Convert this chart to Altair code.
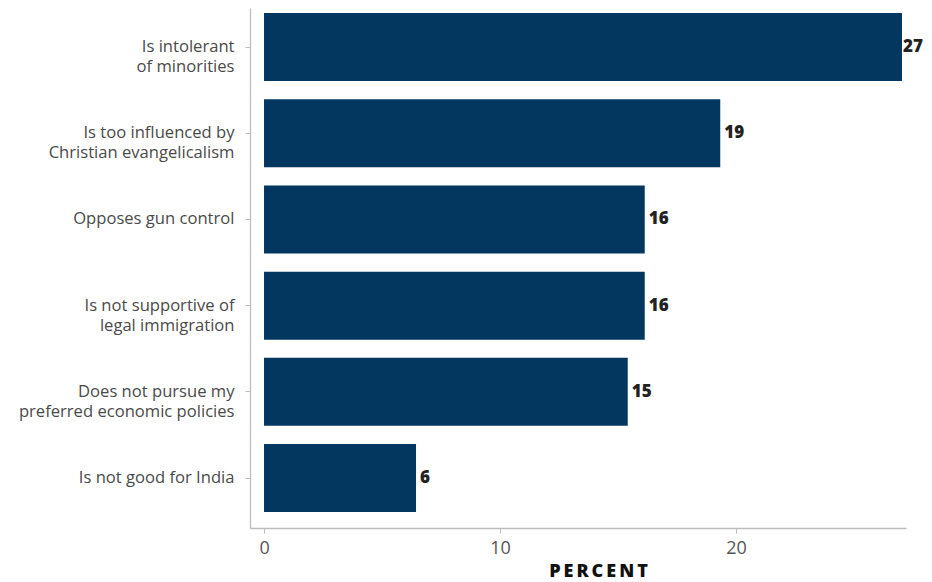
import altair as alt
import pandas as pd

categories = [
    "Is intolerant|of minorities",
    "Is too influenced by|Christian evangelicalism",
    "Opposes gun control",
    "Is not supportive of|legal immigration",
    "Does not pursue my|preferred economic policies",
    "Is not good for India",
]
values = [27.03, 19.33, 16.13, 16.13, 15.41, 6.44]
labels = ["27", "19", "16", "16", "15", "6"]
x_ticks = [0, 10, 20]

df = pd.DataFrame({"cat": categories, "val": values, "lab": labels})

FONT = "Open Sans"
TS = "\u2009"

y_enc = alt.Y(
    "cat:N",
    sort=None,
    scale=alt.Scale(paddingInner=0.211, paddingOuter=0.1215, align=0.24),
    axis=alt.Axis(
        title=None,
        labelExpr="split(datum.label, '|')",
        labelFont=FONT,
        labelFontSize=16.6,
        labelColor="#4a4a4a",
        labelLineHeight=20,
        labelPadding=11,
        labelLimit=300,
        tickSize=5,
        tickColor="#bdbdbd",
        domainColor="#bdbdbd",
        domainWidth=1.3,
    ),
)

x_enc = alt.X(
    "val:Q",
    scale=alt.Scale(domain=[-0.594, 27.2], nice=False, zero=False),
    axis=alt.Axis(
        title=TS.join("PERCENT"),
        values=x_ticks,
        format="d",
        grid=False,
        labelFont=FONT,
        labelFontSize=18,
        labelColor="#555555",
        labelPadding=6,
        tickSize=5,
        tickColor="#bdbdbd",
        domainColor="#bdbdbd",
        domainWidth=1.3,
        titleFont=FONT,
        titleFontSize=18,
        titleFontWeight=800,
        titleColor="#111111",
        titlePadding=5,
        titleX=348,
    ),
)

bars = alt.Chart(df).mark_bar(color="#03375f").encode(y=y_enc, x=x_enc)

text_props = dict(align="left", baseline="middle", font=FONT, fontSize=17,
                  fontWeight=800, color="#222222")

text = alt.Chart(df).transform_filter("datum.val < 25").mark_text(
    dx=4, **text_props
).encode(y=alt.Y("cat:N", sort=None), x="val:Q", text="lab:N")

text_long = alt.Chart(df).transform_filter("datum.val >= 25").mark_text(
    dx=1, **text_props
).encode(y=alt.Y("cat:N", sort=None), x="val:Q", text="lab:N")

chart = (
    (bars + text + text_long)
    .properties(
        width=656,
        height=520,
        autosize=alt.AutoSizeParams(type="none"),
        padding={"left": 242, "top": 0, "right": 18, "bottom": 52},
    )
    .configure_view(stroke=None)
)

chart.save("out.html", embed_options={"renderer": "svg", "actions": False})
